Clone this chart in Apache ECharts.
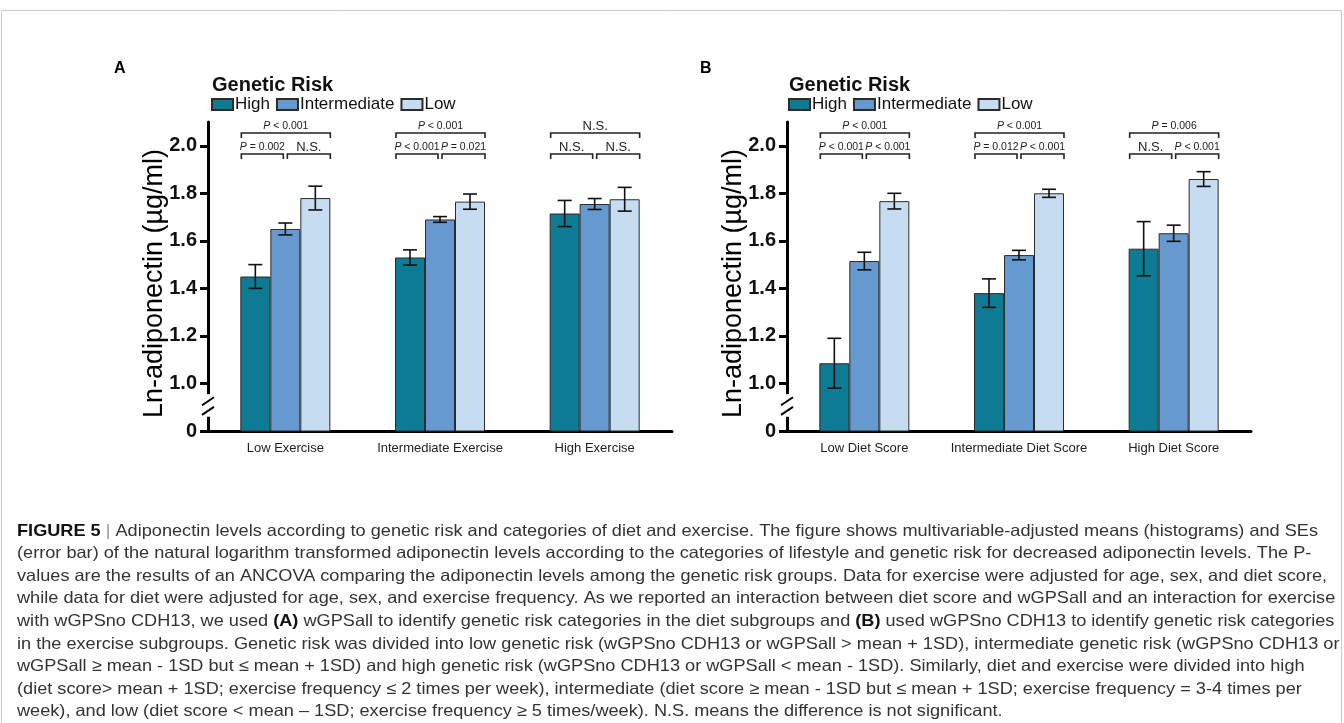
<!DOCTYPE html>
<html>
<head>
<meta charset="utf-8">
<script src="https://cdn.jsdelivr.net/npm/echarts@6/dist/echarts.min.js"></script>
<style>
  html, body { margin: 0; padding: 0; background: #fff; }
  #chart { width: 1344px; height: 723px; }
</style>
</head>
<body>
<div id="chart"></div>
<script>
// ---- data ----
const riskGroups = ['High', 'Intermediate', 'Low']
const exerciseCats = ['Low Exercise', 'Intermediate Exercise', 'High Exercise']
const dietCats = ['Low Diet Score', 'Intermediate Diet Score', 'High Diet Score']

// means / SE by genetic risk group, one value per lifestyle category
const exerciseHigh = [1.45, 1.53, 1.715]
const exerciseInter = [1.65, 1.69, 1.755]
const exerciseLow = [1.78, 1.765, 1.775]
const exerciseHighSE = [0.05, 0.032, 0.055]
const exerciseInterSE = [0.025, 0.012, 0.023]
const exerciseLowSE = [0.05, 0.032, 0.05]

const dietHigh = [1.085, 1.38, 1.567]
const dietInter = [1.515, 1.54, 1.632]
const dietLow = [1.767, 1.8, 1.86]
const dietHighSE = [0.105, 0.06, 0.114]
const dietInterSE = [0.037, 0.02, 0.034]
const dietLowSE = [0.033, 0.017, 0.031]

// significance labels: [overall, High vs Intermediate, Intermediate vs Low]
const exerciseUpper = ['P < 0.001', 'P < 0.001', 'N.S.']
const exerciseLeft = ['P = 0.002', 'P < 0.001', 'N.S.']
const exerciseRight = ['N.S.', 'P = 0.021', 'N.S.']
const dietUpper = ['P < 0.001', 'P < 0.001', 'P = 0.006']
const dietLeft = ['P < 0.001', 'P = 0.012', 'N.S.']
const dietRight = ['P < 0.001', 'P < 0.001', 'P < 0.001']

// y axis: 0.8 stands for the broken-off "0"
const yTickValues = [0.8, 1.0, 1.2, 1.4, 1.6, 1.8, 2.0]
const yTickLabels = ['0', '1.0', '1.2', '1.4', '1.6', '1.8', '2.0']

const captionLines = [
  '{b|FIGURE 5} {g||} Adiponectin levels according to genetic risk and categories of diet and exercise. The figure shows multivariable-adjusted means (histograms) and SEs',
  '(error bar) of the natural logarithm transformed adiponectin levels according to the categories of lifestyle and genetic risk for decreased adiponectin levels. The P-',
  'values are the results of an ANCOVA comparing the adiponectin levels among the genetic risk groups. Data for exercise were adjusted for age, sex, and diet score,',
  'while data for diet were adjusted for age, sex, and exercise frequency. As we reported an interaction between diet score and wGPSall and an interaction for exercise',
  'with wGPSno CDH13, we used {b|(A)} wGPSall to identify genetic risk categories in the diet subgroups and {b|(B)} used wGPSno CDH13 to identify genetic risk categories',
  'in the exercise subgroups. Genetic risk was divided into low genetic risk (wGPSno CDH13 or wGPSall > mean + 1SD), intermediate genetic risk (wGPSno CDH13 or',
  'wGPSall ≥ mean - 1SD but ≤ mean + 1SD) and high genetic risk (wGPSno CDH13 or wGPSall < mean - 1SD). Similarly, diet and exercise were divided into high',
  '(diet score> mean + 1SD; exercise frequency ≤ 2 times per week), intermediate (diet score ≥ mean - 1SD but ≤ mean + 1SD; exercise frequency = 3-4 times per',
  'week), and low (diet score < mean – 1SD; exercise frequency ≥ 5 times/week). N.S. means the difference is not significant.',
]

// ---- style ----
const FONT = '"Liberation Sans", Arial, Helvetica, sans-serif'
const COLORS = ['#0d7b93', '#6699cf', '#c6ddf1']
const BAR_W = 30
const Y_MIN = 0.8
const Y_MAX = 2.1
const GRID_TOP = 122
const GRID_H = 309
const GRID_W = 464
const GRID_LEFTS = [208, 787]

const chart = echarts.init(document.getElementById('chart'))

const makeErrorSeries = (panel, means, ses, k) => ({
  type: 'custom',
  xAxisIndex: panel,
  yAxisIndex: panel,
  z: 5,
  silent: true,
  data: means.map((m, i) => [i, m, ses[i]]),
  encode: { x: 0, y: 1 },
  renderItem: (params, api) => {
    const i = api.value(0)
    const m = api.value(1)
    const s = api.value(2)
    const cx = api.coord([i, m])[0] + (k - 1) * BAR_W
    const yTop = api.coord([i, m + s])[1]
    const yBot = api.coord([i, m - s])[1]
    const hw = 7
    const st = { stroke: '#111', lineWidth: 1.6 }
    return {
      type: 'group',
      children: [
        { type: 'line', shape: { x1: cx, y1: yTop, x2: cx, y2: yBot }, style: st },
        { type: 'line', shape: { x1: cx - hw, y1: yTop, x2: cx + hw, y2: yTop }, style: st },
        { type: 'line', shape: { x1: cx - hw, y1: yBot, x2: cx + hw, y2: yBot }, style: st },
      ],
    }
  },
})

const pText = (label, x, y) => {
  const isP = label.startsWith('P')
  const txt = isP ? '{i|P}' + label.slice(1) : label
  return {
    type: 'text',
    style: {
      text: txt,
      x: x,
      y: y,
      align: 'center',
      verticalAlign: 'middle',
      fontFamily: FONT,
      fontSize: isP ? 10.5 : 13,
      fill: '#222',
      rich: {
        i: { fontStyle: 'italic', fontSize: 10.5, fontFamily: FONT, fill: '#222' },
      },
    },
  }
}

const makeBracketSeries = (panel, upper, left, right) => ({
  type: 'custom',
  xAxisIndex: panel,
  yAxisIndex: panel,
  z: 6,
  silent: true,
  clip: false,
  data: upper.map((u, i) => [i, Y_MAX]),
  encode: { x: 0, y: 1 },
  renderItem: (params, api) => {
    const i = api.value(0)
    const p = api.coord([i, Y_MAX])
    const cx = p[0]
    const top = p[1]
    const l = cx - 1.5 * BAR_W + 1
    const r = cx + 1.5 * BAR_W
    const st = { stroke: '#222', lineWidth: 1.6, fill: null }
    const bracket = (x1, x2, y) => ({
      type: 'polyline',
      shape: { points: [[x1, y + 5], [x1, y], [x2, y], [x2, y + 5]] },
      style: st,
    })
    return {
      type: 'group',
      children: [
        bracket(l, r, top + 11),
        bracket(l, cx - 2, top + 32),
        bracket(cx + 2, r, top + 32),
        pText(upper[params.dataIndex], (l + r) / 2, top + 4),
        pText(left[params.dataIndex], (l + cx - 2) / 2, top + 25),
        pText(right[params.dataIndex], (cx + 2 + r) / 2, top + 25),
      ],
    }
  },
})

const makeBars = (panel, groups) =>
  groups.map((vals, k) => ({
    name: riskGroups[k],
    type: 'bar',
    xAxisIndex: panel,
    yAxisIndex: panel,
    barWidth: BAR_W,
    barGap: '0%',
    data: vals,
    itemStyle: { color: COLORS[k], borderColor: '#2b2b2b', borderWidth: 1 },
  }))

const xAxisFor = (panel, cats) => ({
  type: 'category',
  gridIndex: panel,
  data: cats,
  axisLine: { lineStyle: { color: '#000', width: 3 } },
  axisTick: { alignWithLabel: true, length: 7, lineStyle: { color: '#000', width: 3 } },
  axisLabel: { interval: 0, fontSize: 13, color: '#222', margin: 11 },
})

const yAxisFor = (panel) => ({
  type: 'value',
  gridIndex: panel,
  min: Y_MIN,
  max: Y_MAX,
  interval: 0.2,
  name: 'Ln-adiponectin (µg/ml)',
  nameLocation: 'middle',
  nameGap: 40,
  nameMoveOverlap: false,
  nameTextStyle: { fontSize: 27, color: '#000', padding: [0, 14, 0, 0] },
  axisLine: { show: true, lineStyle: { color: '#000', width: 3 } },
  axisTick: { show: true, length: 8, customValues: yTickValues, lineStyle: { color: '#000', width: 3 } },
  axisLabel: {
    customValues: yTickValues,
    fontSize: 20,
    fontWeight: 'bold',
    color: '#111',
    margin: 11,
    formatter: (v) => yTickLabels[yTickValues.findIndex((t) => Math.abs(t - v) < 1e-6)] ?? '',
  },
  splitLine: { show: false },
})

const legendFor = (left) => ({
  left: left,
  top: 96,
  padding: 0,
  itemWidth: 21,
  itemHeight: 11,
  itemGap: 6,
  icon: 'rect',
  data: riskGroups,
  selectedMode: false,
  textStyle: { fontSize: 17, color: '#111', padding: [0, 0, 0, -3] },
})

const option = {
  animation: false,
  textStyle: { fontFamily: FONT },
  title: [
    { text: 'A', left: 114, top: 61, padding: 0, textStyle: { fontSize: 16, fontWeight: 'bold', color: '#000' } },
    { text: 'B', left: 700, top: 61, padding: 0, textStyle: { fontSize: 16, fontWeight: 'bold', color: '#000' } },
    { text: 'Genetic Risk', left: 212, top: 75, padding: 0, textStyle: { fontSize: 20, fontWeight: 'bold', color: '#111' } },
    { text: 'Genetic Risk', left: 789, top: 75, padding: 0, textStyle: { fontSize: 20, fontWeight: 'bold', color: '#111' } },
  ],
  legend: [legendFor(211), legendFor(788)],
  grid: GRID_LEFTS.map((left) => ({ left: left, top: GRID_TOP, width: GRID_W, height: GRID_H })),
  xAxis: [xAxisFor(0, exerciseCats), xAxisFor(1, dietCats)],
  yAxis: [yAxisFor(0), yAxisFor(1)],
  series: [
    ...makeBars(0, [exerciseHigh, exerciseInter, exerciseLow]),
    ...makeBars(1, [dietHigh, dietInter, dietLow]),
    makeErrorSeries(0, exerciseHigh, exerciseHighSE, 0),
    makeErrorSeries(0, exerciseInter, exerciseInterSE, 1),
    makeErrorSeries(0, exerciseLow, exerciseLowSE, 2),
    makeErrorSeries(1, dietHigh, dietHighSE, 0),
    makeErrorSeries(1, dietInter, dietInterSE, 1),
    makeErrorSeries(1, dietLow, dietLowSE, 2),
    makeBracketSeries(0, exerciseUpper, exerciseLeft, exerciseRight),
    makeBracketSeries(1, dietUpper, dietLeft, dietRight),
  ],
}

chart.setOption(option)

// ---- decorations: axis break marks, frame, caption ----
const graphics = []
graphics.push({
  type: 'rect',
  shape: { x: 1.5, y: 10.5, width: 1340, height: 760 },
  style: { fill: null, stroke: '#c9c9c9', lineWidth: 1 },
  silent: true,
})

GRID_LEFTS.forEach((gl, panel) => {
  const yA = chart.convertToPixel({ yAxisIndex: panel }, 0.955)
  const yB = chart.convertToPixel({ yAxisIndex: panel }, 0.86)
  const y1 = chart.convertToPixel({ yAxisIndex: panel }, 0.925)
  const y2 = chart.convertToPixel({ yAxisIndex: panel }, 0.885)
  graphics.push({
    type: 'rect',
    z: 100,
    shape: { x: gl - 3, y: yA, width: 6, height: yB - yA },
    style: { fill: '#fff' },
    silent: true,
  })
  ;[y1, y2].forEach((y) => {
    graphics.push({
      type: 'line',
      z: 101,
      shape: { x1: gl - 6, y1: y + 4, x2: gl + 6, y2: y - 4 },
      style: { stroke: '#000', lineWidth: 2 },
      silent: true,
    })
  })
})

const CAP_FS = 16.5
const ctx = document.createElement('canvas').getContext('2d')
ctx.font = `${CAP_FS}px "Liberation Sans"`
const plain1 = captionLines[0].replace(/\{\w\|([^}]*)\}/g, '$1')
const capScale = 1301 / ctx.measureText(plain1).width

captionLines.forEach((line, i) => {
  graphics.push({
    type: 'text',
    x: 17,
    y: 531 + i * 22.6,
    scaleX: capScale,
    silent: true,
    style: {
      text: line,
      fontFamily: FONT,
      fontSize: CAP_FS,
      fill: '#333',
      verticalAlign: 'middle',
      rich: {
        b: { fontWeight: 'bold', fontSize: CAP_FS, fontFamily: FONT, fill: '#111' },
        g: { fontSize: CAP_FS, fontFamily: FONT, fill: '#999' },
      },
    },
  })
})

chart.setOption({ graphic: graphics })
</script>
</body>
</html>
